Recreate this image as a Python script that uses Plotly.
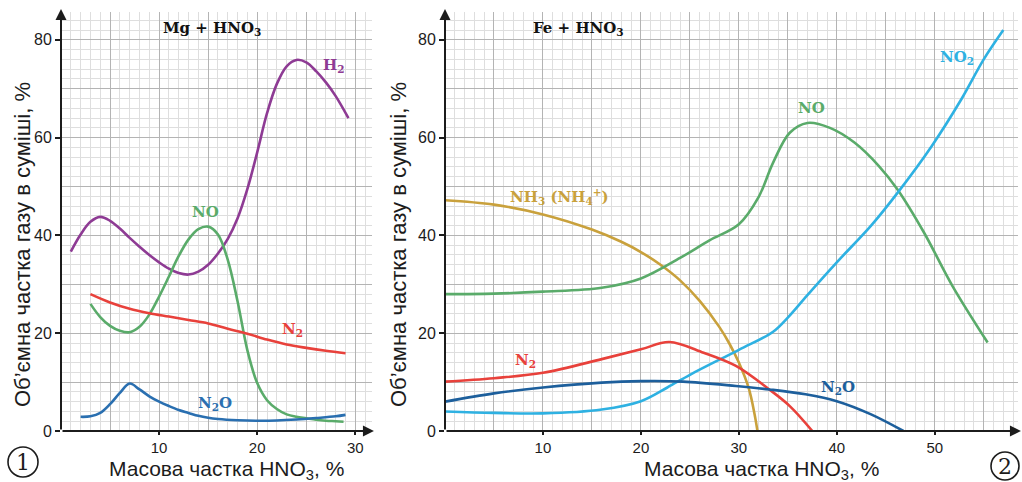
import plotly.graph_objects as go

W, H = 1022, 482

# ---- Mg + HNO3 (left panel) ----
mg_h2_x = [1, 2, 3, 4, 5, 6, 7, 8, 9, 10, 11, 12, 13, 14, 15, 16, 17, 18, 19, 20, 21, 22, 23, 24, 25, 26, 27, 28, 29.3]
mg_h2_y = [36.7, 40.2, 42.8, 43.8, 43.0, 41.4, 39.5, 37.7, 36.0, 34.5, 33.2, 32.3, 32.0, 32.6, 34.0, 36.3, 39.3, 43.5, 49.5, 57.0, 65.0, 71.0, 74.6, 75.9, 75.4, 73.6, 71.3, 68.5, 64.0]

mg_no_x = [3, 4, 5, 6, 7, 8, 9, 10, 11, 12, 13, 14, 15, 16, 17, 18, 19, 20, 21, 22, 23, 24, 25, 26, 27, 28, 28.8]
mg_no_y = [26.0, 23.3, 21.5, 20.5, 20.2, 21.3, 23.8, 27.5, 31.6, 35.8, 39.2, 41.3, 41.8, 40.2, 35.0, 26.5, 16.5, 9.8, 6.3, 4.5, 3.4, 2.9, 2.6, 2.3, 2.1, 2.0, 1.9]

mg_n2_x = [3, 5, 7, 9, 11, 13, 15, 17, 19, 21, 23, 25, 27, 29]
mg_n2_y = [28.0, 26.3, 25.0, 24.1, 23.4, 22.7, 22.0, 20.9, 19.9, 18.7, 17.7, 17.0, 16.4, 15.9]

mg_n2o_x = [2, 3, 4, 5, 6, 7, 8, 9, 10, 11, 12, 13, 14, 15, 16, 18, 20, 22, 24, 26, 28, 29]
mg_n2o_y = [2.9, 3.0, 3.7, 5.5, 7.8, 9.7, 8.5, 7.1, 6.0, 5.1, 4.3, 3.7, 3.1, 2.7, 2.45, 2.2, 2.1, 2.15, 2.35, 2.65, 3.0, 3.3]

# ---- Fe + HNO3 (right panel) ----
fe_nh3_x = [0, 5, 10, 15, 18, 20, 22, 24, 26, 28, 29, 30, 31, 31.6, 31.9]
fe_nh3_y = [47.2, 46.3, 44.3, 41.2, 38.7, 36.6, 34.0, 30.8, 26.6, 21.3, 18.0, 14.0, 8.8, 3.5, 0]

fe_no_x = [0, 5, 10, 16, 20, 24, 27, 30, 32, 33.5, 35.2, 37, 39.3, 41.8, 44.3, 46.2, 48.9, 51.8, 55.4]
fe_no_y = [28.0, 28.1, 28.5, 29.3, 31.2, 35.4, 39.0, 42.3, 47.8, 54.9, 61.0, 63.0, 62.0, 59.0, 54.2, 49.4, 40.6, 29.7, 18.1]

fe_no2_x = [0, 5, 10, 16, 20, 22.7, 25.1, 30, 33.5, 35, 37, 40, 43.5, 46.2, 49.7, 52.7, 55, 57]
fe_no2_y = [4.0, 3.7, 3.6, 4.4, 6.1, 8.9, 11.6, 16.6, 20.3, 23.2, 27.8, 34.5, 42.0, 48.7, 58.3, 67.8, 76.0, 82.0]

fe_n2_x = [0, 5, 10, 16, 20, 22.9, 26.4, 29.7, 33.1, 35.2, 37.5]
fe_n2_y = [10.1, 10.8, 11.9, 14.7, 16.7, 18.2, 16.0, 13.3, 8.5, 5.1, 0]

fe_n2o_x = [0, 5, 10, 16, 20, 24.3, 29.7, 33.1, 36.8, 40, 43.5, 46.8]
fe_n2o_y = [6.0, 7.7, 8.9, 9.9, 10.2, 10.1, 9.2, 8.5, 7.5, 6.1, 3.4, 0]

left_xticks = [10, 20, 30]
right_xticks = [10, 20, 30, 40, 50]
yticks = [0, 20, 40, 60, 80]

C_H2 = "#8e3b94"
C_NO = "#5aab6a"
C_N2 = "#e8413b"
C_N2O_L = "#2a6fb0"
C_N2O_R = "#1d5f9c"
C_NO2 = "#2eb1e2"
C_NH3 = "#c9a13c"
INK = "#1c1c1c"

LEFT_X = [0, 31.7]
RIGHT_X = [0, 58.5]
Y_RANGE = [0, 85.7]

fig = go.Figure()

def curve(x, y, color, xa, ya):
    fig.add_trace(go.Scatter(
        x=x, y=y, mode="lines", xaxis=xa, yaxis=ya,
        line=dict(color=color, width=2.6, shape="spline", smoothing=1.0),
        showlegend=False, hoverinfo="skip"))

curve(mg_h2_x, mg_h2_y, C_H2, "x", "y")
curve(mg_no_x, mg_no_y, C_NO, "x", "y")
curve(mg_n2_x, mg_n2_y, C_N2, "x", "y")
curve(mg_n2o_x, mg_n2o_y, C_N2O_L, "x", "y")

curve(fe_nh3_x, fe_nh3_y, C_NH3, "x2", "y2")
curve(fe_no_x, fe_no_y, C_NO, "x2", "y2")
curve(fe_no2_x, fe_no2_y, C_NO2, "x2", "y2")
curve(fe_n2_x, fe_n2_y, C_N2, "x2", "y2")
curve(fe_n2o_x, fe_n2o_y, C_N2O_R, "x2", "y2")

# empty traces so the overlaid tick-label axes get their own subplots
for xa, ya in (("x3", "y3"), ("x4", "y4")):
    fig.add_trace(go.Scatter(x=[], y=[], xaxis=xa, yaxis=ya,
                             showlegend=False, hoverinfo="skip"))

dom_y = [(H - 431) / H, (H - 12) / H]
dom_l = [61 / W, 372 / W]
dom_r = [445 / W, 1018 / W]

def grid_x(domain, rng, anchor):
    return dict(domain=domain, range=rng, anchor=anchor, showgrid=True,
                tick0=0, dtick=5, gridcolor="#b4b4b4", gridwidth=1,
                minor=dict(tick0=0, dtick=1, showgrid=True, gridcolor="#dedede", gridwidth=1),
                showticklabels=False, ticks="", zeroline=False, showline=False,
                fixedrange=True, automargin=False)

def grid_y(anchor):
    return dict(domain=dom_y, range=Y_RANGE, anchor=anchor, showgrid=True,
                tick0=0, dtick=10, gridcolor="#b4b4b4", gridwidth=1,
                minor=dict(tick0=0, dtick=2, showgrid=True, gridcolor="#dedede", gridwidth=1),
                showticklabels=False, ticks="", zeroline=False, showline=False,
                fixedrange=True, automargin=False)

tickfont = dict(family="Liberation Sans, Arial, sans-serif", size=16, color=INK)
xtickfont = dict(family="Liberation Sans, Arial, sans-serif", size=15, color=INK)

def label_x(over, rng, anchor, vals):
    return dict(overlaying=over, range=rng, anchor=anchor, side="bottom",
                tickmode="array", tickvals=vals, ticktext=[str(v) for v in vals],
                ticks="outside", ticklen=3, tickwidth=1.5, tickcolor=INK,
                tickfont=xtickfont, showgrid=False, zeroline=False, showline=False,
                automargin=False)

def label_y(over, anchor):
    return dict(overlaying=over, range=Y_RANGE, anchor=anchor, side="left",
                tickmode="array", tickvals=yticks, ticktext=[str(v) for v in yticks],
                ticks="outside", ticklen=5, tickwidth=1.5, tickcolor=INK,
                tickfont=tickfont, showgrid=False, zeroline=False, showline=False,
                automargin=False)

fig.update_layout(
    width=W, height=H,
    margin=dict(l=0, r=0, t=0, b=0, pad=0, autoexpand=False),
    paper_bgcolor="white", plot_bgcolor="white",
    xaxis=grid_x(dom_l, LEFT_X, "y"),
    yaxis=grid_y("x"),
    xaxis2=grid_x(dom_r, RIGHT_X, "y2"),
    yaxis2=grid_y("x2"),
    xaxis3=label_x("x", LEFT_X, "y3", left_xticks),
    yaxis3=label_y("y", "x3"),
    xaxis4=label_x("x2", RIGHT_X, "y4", right_xticks),
    yaxis4=label_y("y2", "x4"),
)
fig.layout.yaxis3.domain = dom_y
fig.layout.yaxis4.domain = dom_y

ann = []

# axis lines with arrowheads
def axis_arrow(xr, yr, x0, y0, x1, y1):
    ann.append(dict(x=x1, y=y1, ax=x0, ay=y0, xref=xr, yref=yr, axref=xr, ayref=yr,
                    text="", showarrow=True, arrowhead=2, arrowsize=1.1,
                    arrowwidth=2, arrowcolor=INK))

axis_arrow("x", "y", 0, 0, 0, 86.3)
axis_arrow("x", "y", 0, 0, 31.9, 0)
axis_arrow("x2", "y2", 0, 0, 0, 86.3)
axis_arrow("x2", "y2", 0, 0, 58.8, 0)

serif = "DejaVu Serif, Liberation Serif, serif"

def tag(xr, yr, x, y, text, color, size=15):
    ann.append(dict(x=x, y=y, xref=xr, yref=yr, text="<b>" + text + "</b>",
                    xanchor="center", yanchor="middle",
                    showarrow=False, font=dict(family=serif, size=size, color=color)))

tag("x", "y", 15.4, 82.4, "Mg + HNO<sub>3</sub>", "#111111")
tag("x", "y", 27.8, 74.8, "H<sub>2</sub>", C_H2)
tag("x", "y", 14.7, 44.8, "NO", C_NO)
tag("x", "y", 23.6, 20.7, "N<sub>2</sub>", C_N2)
tag("x", "y", 15.7, 5.7, "N<sub>2</sub>O", C_N2O_L)

tag("x2", "y2", 13.6, 82.4, "Fe + HNO<sub>3</sub>", "#111111")
tag("x2", "y2", 52.3, 76.3, "NO<sub>2</sub>", C_NO2)
tag("x2", "y2", 37.4, 66.0, "NO", C_NO)
tag("x2", "y2", 11.7, 48.0, "NH<sub>3</sub> (NH<sub>4</sub><sup>+</sup>)", C_NH3)
tag("x2", "y2", 8.2, 14.5, "N<sub>2</sub>", C_N2)
tag("x2", "y2", 40.1, 8.8, "N<sub>2</sub>O", C_N2O_R)

sans = "Liberation Sans, Arial, sans-serif"
xtitle = "Масова частка HNO<sub>3</sub>, %"
ytitle = "Об’ємна частка газу в суміші, %"

for cx in (226, 761):
    ann.append(dict(x=cx / W, y=(H - 470) / H, xref="paper", yref="paper",
                    xanchor="center", yanchor="middle",
                    text=xtitle, showarrow=False,
                    font=dict(family=sans, size=21, color=INK)))
for cx in (22, 398):
    ann.append(dict(x=cx / W, y=(H - 245) / H, xref="paper", yref="paper",
                    xanchor="center", yanchor="middle",
                    text=ytitle, showarrow=False, textangle=-90,
                    font=dict(family=sans, size=22, color=INK)))

# circled panel numbers
shapes = []
for (cx, cy, r, num) in ((23, 462, 15, "1"), (1005, 466, 14, "2")):
    shapes.append(dict(type="circle", xref="paper", yref="paper",
                       x0=(cx - r) / W, x1=(cx + r) / W,
                       y0=(H - cy - r) / H, y1=(H - cy + r) / H,
                       line=dict(color=INK, width=1.6)))
    ann.append(dict(x=cx / W, y=(H - cy) / H, xref="paper", yref="paper",
                    xanchor="center", yanchor="middle",
                    text=num, showarrow=False,
                    font=dict(family=serif, size=22, color=INK)))

fig.update_layout(annotations=ann, shapes=shapes)

fig.write_html("out.html")
